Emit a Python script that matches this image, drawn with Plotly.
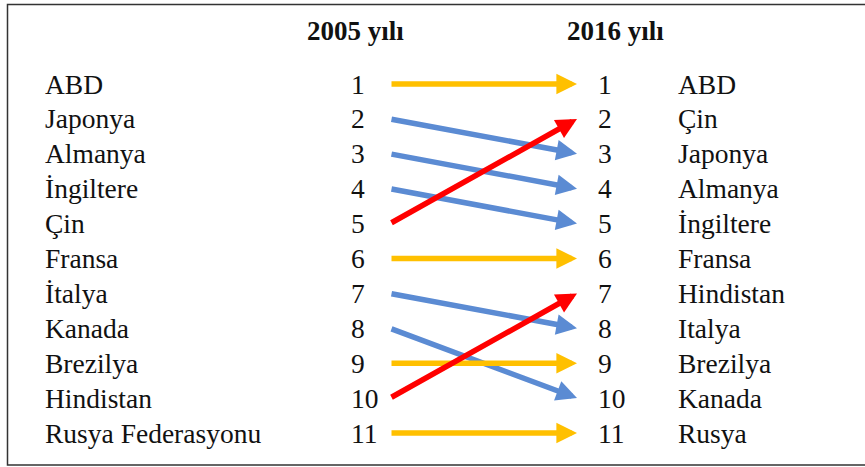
import plotly.graph_objects as go

# ---- data ----
countries_2005 = ["ABD", "Japonya", "Almanya", "İngiltere", "Çin", "Fransa",
                  "İtalya", "Kanada", "Brezilya", "Hindistan", "Rusya Federasyonu"]
rank_2005 = [1, 2, 3, 4, 5, 6, 7, 8, 9, 10, 11]
rank_2016 = [1, 3, 4, 5, 2, 6, 8, 10, 9, 7, 11]   # new rank of each 2005 country
countries_2016 = ["ABD", "Çin", "Japonya", "Almanya", "İngiltere", "Fransa",
                  "Hindistan", "Italya", "Brezilya", "Kanada", "Rusya"]
ranks_2016_list = [1, 2, 3, 4, 5, 6, 7, 8, 9, 10, 11]
header_2005 = "2005 yılı"
header_2016 = "2016 yılı"

# ---- layout constants ----
W, H = 865, 467
Y_FIRST, ROW = 84.0, 34.9           # pixel of rank 1, pixels per rank
y_top = 1 - Y_FIRST / ROW
y_bot = 1 + (H - Y_FIRST) / ROW
FONT = "'Liberation Serif', 'Times New Roman', Times, serif"
TXT = "#111111"
C_UP, C_DOWN, C_SAME = "#FF0000", "#5B8BD3", "#FFC000"

X_LEFT_LABEL, X_LEFT_NUM = 43, 349
X_ARROW0, X_ARROW1 = 390, 577
X_RIGHT_NUM, X_RIGHT_LABEL = 596, 676

fig = go.Figure()
fig.add_trace(go.Scatter(x=[0], y=[1], mode="markers", marker=dict(opacity=0),
                         hoverinfo="skip", showlegend=False))

ann = []
def txt(x, y, s, size=27.5, bold=False, xanchor="left"):
    ann.append(dict(x=x, y=y, xref="x", yref="y", text=("<b>%s</b>" % s) if bold else s,
                    showarrow=False, xanchor=xanchor, yanchor="middle",
                    font=dict(family=FONT, size=size, color=TXT)))

y_header = 1 + (31 - Y_FIRST) / ROW
txt(355, y_header, header_2005, size=27, bold=True, xanchor="center")
txt(615, y_header, header_2016, size=27, bold=True, xanchor="center")

for name, r in zip(countries_2005, rank_2005):
    txt(X_LEFT_LABEL, r, name)
    txt(X_LEFT_NUM, r, str(r))
for name, r in zip(countries_2016, ranks_2016_list):
    txt(X_RIGHT_NUM, r, str(r))
    txt(X_RIGHT_LABEL, r, name)

for r0, r1 in zip(rank_2005, rank_2016):
    col = C_UP if r1 < r0 else (C_DOWN if r1 > r0 else C_SAME)
    ann.append(dict(x=X_ARROW1, y=r1, ax=X_ARROW0, ay=r0, xref="x", yref="y",
                    axref="x", ayref="y", text="", showarrow=True,
                    arrowhead=2, arrowsize=0.75, arrowwidth=5.5, arrowcolor=col,
                    standoff=0))

fig.update_layout(
    width=W, height=H, margin=dict(l=0, r=0, t=0, b=0),
    paper_bgcolor="white", plot_bgcolor="white",
    font=dict(family=FONT),
    xaxis=dict(range=[0, W], visible=False, fixedrange=True),
    yaxis=dict(range=[y_bot, y_top], visible=False, fixedrange=True),
    annotations=ann,
    shapes=[dict(type="rect", xref="x", yref="y", x0=7.5, x1=W + 20,
                 y0=1 + (4.5 - Y_FIRST) / ROW, y1=1 + (465 - Y_FIRST) / ROW,
                 line=dict(color="#333333", width=1.5))],
    showlegend=False,
)
fig.write_html("out.html", config={"displayModeBar": False},
               post_script="document.body.style.margin='0';")
